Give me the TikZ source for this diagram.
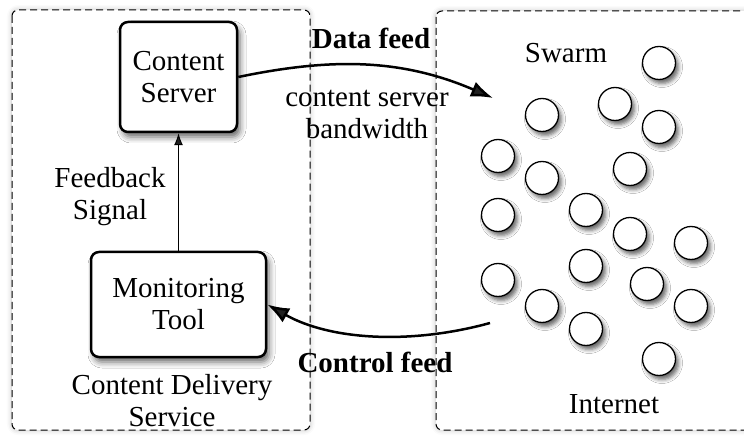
\documentclass[tikz,border=0pt]{standalone}
\usepackage{fontspec}
\setmainfont{Liberation Serif}
\usetikzlibrary{shadows.blur,arrows.meta}

\begin{document}
\begin{tikzpicture}[
      x=1pt, y=-1pt,
      every node/.style={font=\fontsize{29}{32}\selectfont, align=center},
      region/.style={draw, line width=1pt, dash pattern=on 7pt off 4pt, rounded corners=6pt, fill=white,
        blur shadow={shadow xshift=0pt, shadow yshift=0pt, shadow opacity=25, shadow blur radius=5pt}},
      unit/.style={draw, line width=2.5pt, rounded corners=8pt, fill=white,
        blur shadow={shadow xshift=3pt, shadow yshift=-5pt, shadow opacity=60, shadow blur radius=6pt}},
      peer/.style={circle, draw, line width=1.3pt, fill=white, minimum size=33pt, inner sep=0pt,
        blur shadow={shadow xshift=3pt, shadow yshift=-4pt, shadow opacity=60, shadow blur radius=4pt}},
      feed/.style={line width=2.5pt, -{Latex[length=22pt, width=16pt]}}
      ]
    \useasboundingbox (0,0) rectangle (744,438);
    \clip (0,0) rectangle (744,438);

    % the two regions
    \draw[region] (12,10) rectangle (310,430);
    \draw[region] (436,11) rectangle (770,430);

    % content delivery service
    \node[unit, minimum width=117pt, minimum height=110pt] (server) at (178.5,77) {Content\\Server};
    \node[unit, minimum width=175pt, minimum height=105pt] (tool) at (178.5,304.5) {Monitoring\\Tool};
    \draw[line width=1pt, -{Latex[length=12pt, width=9pt]}] (tool) -- (server);
    \node (signal) at (110,197) {Feedback\\Signal};
    \node (cds) at (172,401) {Content Delivery\\Service};

    % swarm of peers
    \node (swarm) at (566,53) {Swarm};
    \node (internet) at (614,404) {Internet};
    \foreach \px/\py [count=\i] in {659/63, 615/104, 542/115, 659/127, 498/156, 542/178,
        630/169, 498/215, 586/210, 630/234, 691/243, 586/266, 498/280, 647/284,
        542/306, 691/306, 586/329, 659/359}
      \node[peer] (p\i) at (\px,\py) {};

    % feeds
    \coordinate (swarmin) at (493,98);
    \coordinate (swarmout) at (490,323);
    \draw[feed] (server.east) .. controls (330,58) and (400,58) .. (swarmin);
    \draw[feed] (swarmout) .. controls (410,345) and (330,340) .. (tool.east);
    \node[font=\fontsize{29}{32}\selectfont\bfseries] (datafeed) at (371,38) {Data feed};
    \node (bandwidth) at (367,114) {content server\\bandwidth};
    \node[font=\fontsize{29}{32}\selectfont\bfseries] (ctrlfeed) at (375,362) {Control feed};

    \end{tikzpicture}
\end{document}
